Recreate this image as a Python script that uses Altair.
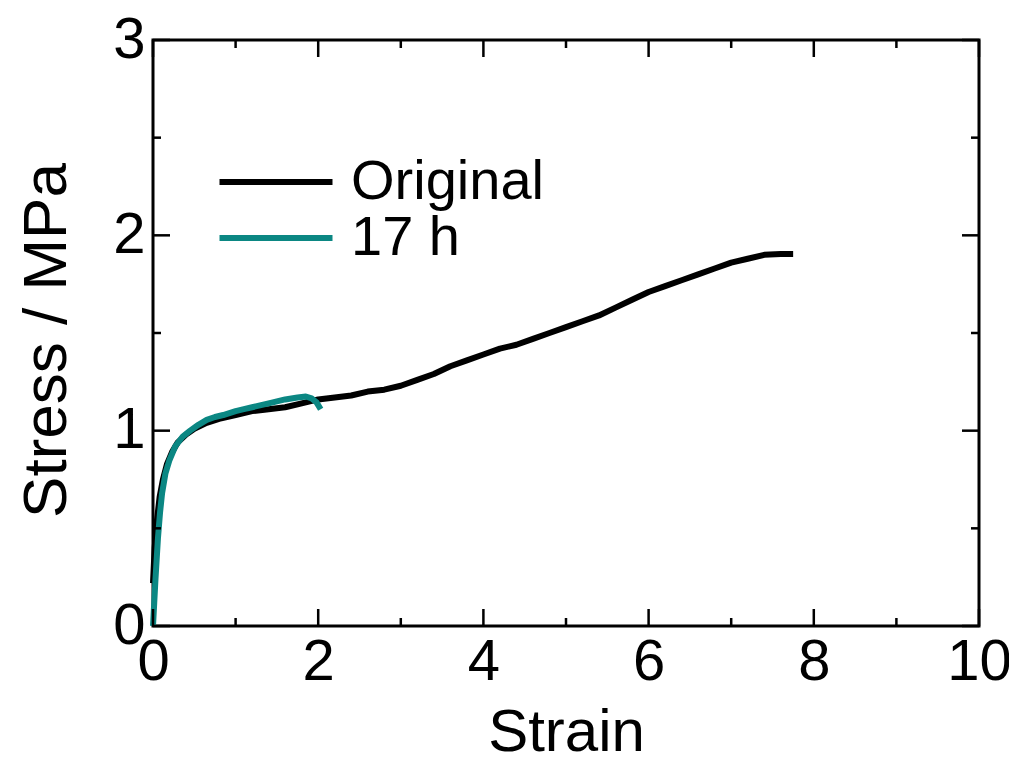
import altair as alt
import pandas as pd

# ---- data ----
orig_strain = [0.0, 0.02, 0.05, 0.08, 0.12, 0.17, 0.23, 0.30, 0.40, 0.50, 0.65, 0.80,
               1.0, 1.2, 1.4, 1.6, 1.8, 2.0, 2.2, 2.4, 2.6, 2.8, 3.0, 3.2, 3.4, 3.6,
               3.8, 4.0, 4.2, 4.4, 4.6, 4.8, 5.0, 5.2, 5.4, 5.6, 5.8, 6.0, 6.2, 6.4,
               6.6, 6.8, 7.0, 7.2, 7.4, 7.6, 7.75]
orig_stress = [0.22, 0.40, 0.55, 0.66, 0.75, 0.83, 0.89, 0.94, 0.98, 1.01, 1.04, 1.06,
               1.08, 1.10, 1.11, 1.12, 1.14, 1.16, 1.17, 1.18, 1.20, 1.21, 1.23, 1.26, 1.29, 1.33,
               1.36, 1.39, 1.42, 1.44, 1.47, 1.50, 1.53, 1.56, 1.59, 1.63, 1.67, 1.71, 1.74, 1.77,
               1.80, 1.83, 1.86, 1.88, 1.90, 1.905, 1.905]

h17_strain = [0.0, 0.015, 0.03, 0.06, 0.085, 0.11, 0.15, 0.20, 0.27, 0.36, 0.45, 0.55,
              0.65, 0.75, 0.85, 1.0, 1.1, 1.2, 1.4, 1.6, 1.75, 1.85, 1.92, 1.98, 2.03]
h17_stress = [0.0, 0.12, 0.24, 0.45, 0.58, 0.68, 0.78, 0.85, 0.92, 0.97, 1.00, 1.03,
              1.055, 1.07, 1.08, 1.10, 1.11, 1.12, 1.14, 1.16, 1.17, 1.175, 1.165, 1.145, 1.11]

series_names = ["Original", "17 h"]
series_colors = ["#000000", "#0b8783"]

x_major = [0, 2, 4, 6, 8, 10]
x_minor = [1, 3, 5, 7, 9]
y_major = [0, 1, 2, 3]
y_minor = [0.5, 1.5, 2.5]

W, H = 826, 586
FONT = "Liberation Sans"

orig_df = pd.DataFrame({"strain": orig_strain, "stress": orig_stress, "series": series_names[0]})
h17_df = pd.DataFrame({"strain": h17_strain, "stress": h17_stress, "series": series_names[1]})

xscale = alt.Scale(domain=[0, 10], nice=False, zero=False)
yscale = alt.Scale(domain=[0, 3], nice=False, zero=False)
cscale = alt.Scale(domain=series_names, range=series_colors)

xaxis = alt.Axis(values=x_major, format="d", ticks=False, domain=False, grid=False,
                 labelFontSize=58, labelFont=FONT, labelPadding=7, labelFlush=False,
                 labelOverlap=False, labelColor="black",
                 title="Strain", titleFontSize=60, titleFont=FONT, titleFontWeight="normal",
                 titleColor="black", titleBaseline="alphabetic", titleY=124)
yaxis = alt.Axis(values=y_major, format="d", ticks=False, domain=False, grid=False,
                 labelFontSize=58, labelFont=FONT, labelPadding=8, labelFlush=False,
                 labelOverlap=False, labelColor="black",
                 title="Stress / MPa", titleFontSize=62, titleFont=FONT, titleFontWeight="normal",
                 titleColor="black", titleBaseline="alphabetic", titleX=-88, titleY=300,
                 titleAlign="center", titleAngle=270)


def xticks(vals, length):
    d = pd.DataFrame({"v": vals})
    base = alt.Chart(d).mark_rule(color="black", strokeWidth=2.5)
    bottom = base.encode(x=alt.X("v:Q", scale=xscale), y=alt.value(H), y2=alt.value(H - length))
    top = base.encode(x=alt.X("v:Q", scale=xscale), y=alt.value(0), y2=alt.value(length))
    return [bottom, top]


def yticks(vals, length):
    d = pd.DataFrame({"v": vals})
    base = alt.Chart(d).mark_rule(color="black", strokeWidth=2.5)
    left = base.encode(y=alt.Y("v:Q", scale=yscale), x=alt.value(0), x2=alt.value(length))
    right = base.encode(y=alt.Y("v:Q", scale=yscale), x=alt.value(W), x2=alt.value(W - length))
    return [left, right]


# long horizontal stroke symbol: path spans [-4,4] units, scaled by sqrt(size)/2
legend = alt.Legend(title=None, orient="none", legendX=53, legendY=114,
                    symbolType="M-4,0H4", symbolSize=798, symbolStrokeWidth=6,
                    symbolOffset=42, labelFontSize=56, labelFont=FONT, labelColor="black",
                    labelOffset=47, rowPadding=0, labelLimit=400)

line_orig = alt.Chart(orig_df).mark_line(strokeWidth=6, strokeJoin="round").encode(
    x=alt.X("strain:Q", scale=xscale, axis=xaxis),
    y=alt.Y("stress:Q", scale=yscale, axis=yaxis),
    color=alt.Color("series:N", scale=cscale, legend=legend),
)
line_h17 = alt.Chart(h17_df).mark_line(strokeWidth=6, strokeJoin="round").encode(
    x=alt.X("strain:Q", scale=xscale),
    y=alt.Y("stress:Q", scale=yscale),
    color=alt.Color("series:N", scale=cscale, legend=legend),
)

layers = xticks(x_major, 17) + xticks(x_minor, 8) + yticks(y_major, 17) + yticks(y_minor, 8)
chart = alt.layer(line_orig, line_h17, *layers).properties(
    width=W, height=H,
    autosize=alt.AutoSizeParams(type="none"),
    padding={"left": 145, "top": 32, "right": 30, "bottom": 128},
    background="white",
).configure_view(stroke="black", strokeWidth=3)

chart.save("out.html", embed_options={"renderer": "svg", "actions": False})
